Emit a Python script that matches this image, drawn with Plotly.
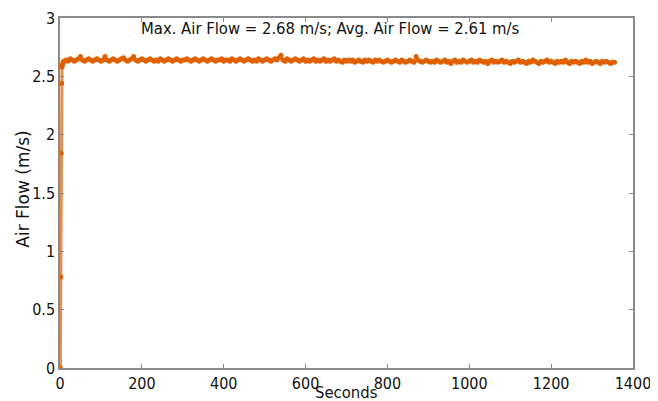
import plotly.graph_objects as go

# Sample times (s): 1 s during the ramp-up, then every 5 s
seconds = list(range(0, 10)) + list(range(10, 1360, 5))

ramp_values = [0.0, 0.0, 0.78, 1.84, 2.44, 2.58, 2.60, 2.61, 2.62, 2.63]

steady_values = [
    2.63, 2.64, 2.63, 2.65, 2.64, 2.63, 2.64, 2.65, 2.67, 2.64, 2.63, 2.64, 2.65, 2.64, 2.63, 2.64, 2.65, 2.64, 2.63, 2.64,
    2.67, 2.64, 2.63, 2.64, 2.65, 2.64, 2.63, 2.64, 2.65, 2.66, 2.64, 2.63, 2.64, 2.65, 2.67, 2.64, 2.63, 2.64, 2.65, 2.64,
    2.63, 2.64, 2.65, 2.64, 2.63, 2.64, 2.63, 2.65, 2.64, 2.63, 2.64, 2.65, 2.64, 2.63, 2.64, 2.65, 2.64, 2.63, 2.64, 2.64,
    2.65, 2.64, 2.63, 2.64, 2.65, 2.64, 2.63, 2.64, 2.65, 2.64, 2.63, 2.64, 2.65, 2.64, 2.63, 2.64, 2.64, 2.65, 2.63, 2.64,
    2.64, 2.63, 2.65, 2.64, 2.63, 2.64, 2.65, 2.64, 2.63, 2.64, 2.65, 2.64, 2.63, 2.64, 2.63, 2.65, 2.64, 2.63, 2.64, 2.65,
    2.64, 2.63, 2.64, 2.65, 2.64, 2.66, 2.68, 2.64, 2.63, 2.65, 2.64, 2.63, 2.64, 2.65, 2.64, 2.63, 2.64, 2.65, 2.63, 2.64,
    2.63, 2.64, 2.65, 2.63, 2.64, 2.63, 2.64, 2.65, 2.63, 2.64, 2.63, 2.64, 2.65, 2.63, 2.64, 2.63, 2.62, 2.64, 2.63, 2.64,
    2.63, 2.64, 2.62, 2.63, 2.64, 2.63, 2.62, 2.64, 2.63, 2.64, 2.63, 2.62, 2.64, 2.63, 2.64, 2.63, 2.62, 2.63, 2.64, 2.63,
    2.62, 2.63, 2.64, 2.63, 2.62, 2.64, 2.63, 2.62, 2.63, 2.64, 2.63, 2.62, 2.67, 2.64, 2.63, 2.62, 2.63, 2.64, 2.63, 2.62,
    2.63, 2.62, 2.64, 2.63, 2.62, 2.63, 2.64, 2.62, 2.63, 2.61, 2.63, 2.64, 2.62, 2.63, 2.62, 2.64, 2.63, 2.62, 2.63, 2.64,
    2.62, 2.63, 2.62, 2.64, 2.63, 2.62, 2.63, 2.61, 2.63, 2.64, 2.62, 2.63, 2.62, 2.63, 2.64, 2.62, 2.63, 2.62, 2.61, 2.63,
    2.62, 2.63, 2.64, 2.62, 2.63, 2.62, 2.61, 2.63, 2.62, 2.64, 2.63, 2.62, 2.61, 2.63, 2.62, 2.63, 2.64, 2.62, 2.63, 2.62,
    2.61, 2.63, 2.62, 2.63, 2.62, 2.64, 2.62, 2.61, 2.63, 2.62, 2.63, 2.62, 2.61, 2.63, 2.62, 2.64, 2.62, 2.63, 2.61, 2.62,
    2.63, 2.62, 2.61, 2.63, 2.62, 2.63, 2.62, 2.61, 2.62, 2.62,
]

air_flow = ramp_values + steady_values

x_ticks = [0, 200, 400, 600, 800, 1000, 1200, 1400]
y_ticks = [0, 0.5, 1, 1.5, 2, 2.5, 3]
y_tick_labels = ["0", "0.5", "1", "1.5", "2", "2.5", "3"]

summary_text = "Max. Air Flow = 2.68 m/s; Avg. Air Flow = 2.61 m/s"

FONT = "DejaVu Sans Condensed, DejaVu Sans, sans-serif"
FONT_Y = "DejaVu Sans, sans-serif"
ORANGE = "#e06000"
FRAME = "#8a8a8a"

fig = go.Figure()
fig.add_trace(go.Scatter(
    x=seconds, y=air_flow, mode="lines+markers",
    line=dict(color="rgba(232,110,30,0.8)", width=3),
    marker=dict(color=ORANGE, size=5),
    showlegend=False,
))

axis_common = dict(
    showline=True, linecolor=FRAME, linewidth=1.5, mirror="ticks",
    ticks="inside", ticklen=4, tickcolor=FRAME, tickwidth=1,
    showgrid=False, zeroline=False, automargin=False,
    tickfont=dict(family=FONT, size=16, color="#111"),
)

# The page places the figure 8 px in from the top-left, so the figure is 8 px smaller
fig.update_layout(
    width=650, height=393,
    margin=dict(l=52, r=25, t=10, b=33, autoexpand=False),
    paper_bgcolor="white", plot_bgcolor="white",
    xaxis=dict(range=[0, 1400], tickvals=x_ticks, **axis_common),
    yaxis=dict(range=[0, 3], tickvals=y_ticks, ticktext=y_tick_labels, **axis_common),
    annotations=[
        dict(x=660, y=2.906, xref="x", yref="y", text=summary_text, showarrow=False,
             font=dict(family=FONT, size=16.5, color="#111")),
        dict(x=0.5, y=-0.07, xref="paper", yref="paper", text="Seconds", showarrow=False,
             xanchor="center", yanchor="middle",
             font=dict(family=FONT, size=16.5, color="#111")),
        dict(x=-0.066, y=0.51, xref="paper", yref="paper", text="Air Flow (m/s)", showarrow=False,
             textangle=-90, xanchor="center", yanchor="middle",
             font=dict(family=FONT_Y, size=17, color="#111")),
    ],
)

fig.write_html("out.html")
